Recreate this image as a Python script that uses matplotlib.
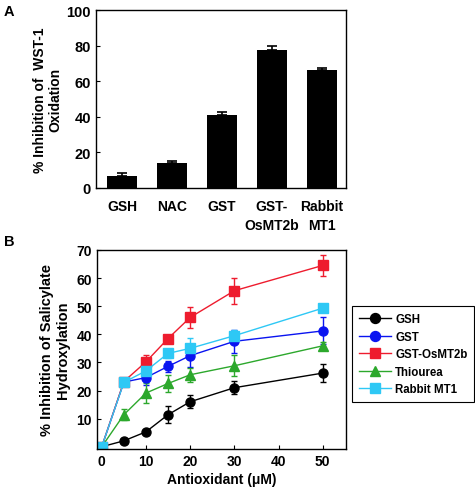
import matplotlib
matplotlib.use('Agg')
import matplotlib.pyplot as plt
import numpy as np

plt.rcParams['font.family'] = ['Liberation Sans', 'DejaVu Sans']
plt.rcParams['font.weight'] = 'bold'

# ── Panel A data ──
a_labels = ['GSH', 'NAC', 'GST', 'GST-\nOsMT2b', 'Rabbit\nMT1']
a_values = [6.9, 13.9, 41.2, 77.5, 66.3]
a_err = [1.8, 1.4, 1.6, 2.2, 1.0]

# ── Panel B data ──
conc = [0, 5, 10, 15, 20, 30, 50]
gsh = [0, 2.1, 5.3, 11.4, 16.0, 21.0, 26.2]
gsh_err = [0, 0.3, 0.5, 3.0, 2.4, 2.4, 3.3]
gst = [0, 23.0, 24.6, 28.6, 32.4, 37.5, 41.2]
gst_err = [0, 1.0, 2.5, 2.0, 4.2, 4.2, 4.8]
osmt = [0, 23.2, 30.2, 38.5, 46.0, 55.5, 64.5]
osmt_err = [0, 1.0, 2.5, 0.5, 3.7, 4.6, 3.8]
thio = [0, 11.4, 19.1, 22.5, 25.6, 28.8, 35.9]
thio_err = [0, 2.0, 3.5, 3.0, 2.4, 3.8, 1.5]
rabbit = [0, 22.9, 27.0, 33.2, 35.0, 39.5, 49.3]
rabbit_err = [0, 1.0, 3.8, 1.5, 3.6, 2.2, 1.0]

fig = plt.figure(figsize=(4.75, 4.89), dpi=100)
fig.patch.set_facecolor('white')

# ── Panel A ──
axA = fig.add_axes([0.202, 0.6135, 0.526, 0.364])
x = np.arange(len(a_labels))
axA.bar(x, a_values, width=0.6, color='black', zorder=2)
axA.errorbar(x, a_values, yerr=[np.zeros(len(a_err)), a_err], fmt='none',
             ecolor='black', elinewidth=1.2, capsize=3.5, capthick=1.2, zorder=3)
axA.set_xlim(-0.52, 4.48)
axA.set_ylim(0, 100)
axA.set_yticks([0, 20, 40, 60, 80, 100])
axA.set_xticks(x)
axA.set_xticklabels(a_labels, fontsize=10, fontweight='bold', linespacing=1.4)
axA.tick_params(axis='y', labelsize=10.5, direction='in', length=3)
axA.tick_params(axis='x', length=0, pad=8)
axA.set_ylabel('% Inhibition of  WST-1\nOxidation', fontsize=10,
               fontweight='bold', labelpad=3, linespacing=1.1)
for s in axA.spines.values():
    s.set_linewidth(1.0)
fig.text(0.008, 0.975, 'A', fontsize=10.5, fontweight='bold', va='center')

# ── Panel B ──
axB = fig.add_axes([0.204, 0.0798, 0.524, 0.407])
series = [
    ('GSH', gsh, gsh_err, 'black', 'o'),
    ('GST', gst, gst_err, '#0a14f0', 'o'),
    ('GST-OsMT2b', osmt, osmt_err, '#ee1c2e', 's'),
    ('Thiourea', thio, thio_err, '#2ca82c', '^'),
    ('Rabbit MT1', rabbit, rabbit_err, '#2ec8f5', 's'),
]
handles = []
for name, vals, err, col, mk in series:
    cont = axB.errorbar(conc, vals, yerr=err, color=col, marker=mk, markersize=6.5,
                        linewidth=1.0, elinewidth=1.0, capsize=2.5, capthick=1.0,
                        label=name)
    handles.append(cont.lines[0])
axB.set_xlim(-1.1, 55.2)
axB.set_ylim(-0.8, 70)
axB.set_xticks([0, 10, 20, 30, 40, 50])
axB.set_yticks([10, 20, 30, 40, 50, 60, 70])
axB.tick_params(axis='both', labelsize=10, direction='in', length=3)
axB.set_xlabel('Antioxidant (\u03bcM)', fontsize=10, fontweight='bold', labelpad=3)
axB.set_ylabel('% Inhibition of Salicylate\nHydroxylation', fontsize=10.5,
               fontweight='bold', labelpad=5, linespacing=1.1)
for s in axB.spines.values():
    s.set_linewidth(1.0)
fig.text(0.008, 0.505, 'B', fontsize=10.5, fontweight='bold', va='center')

leg = fig.legend(handles, [s[0] for s in series], loc='upper left',
                 bbox_to_anchor=(0.741, 0.372), bbox_transform=fig.transFigure,
                 fontsize=8.3, fancybox=False, edgecolor='black', framealpha=1,
                 handlelength=2.8, borderpad=0.6, labelspacing=0.48,
                 handletextpad=0.35, markerscale=1.1, borderaxespad=0)
leg.get_frame().set_linewidth(0.8)

fig.savefig('out.png', dpi=100, facecolor='white')
plt.close()
